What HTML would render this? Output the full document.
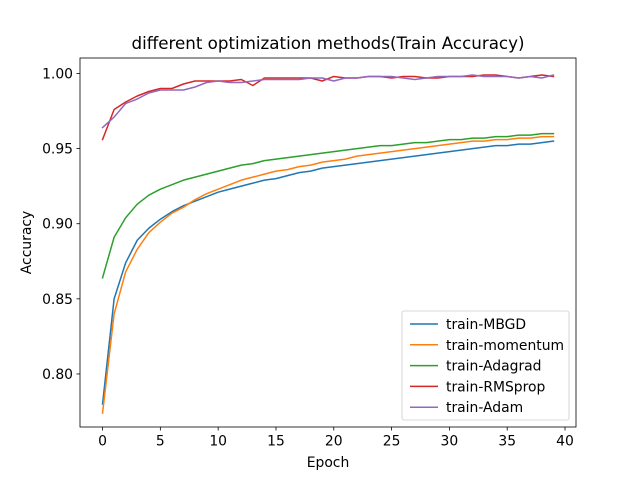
<!DOCTYPE html>
<html><head><meta charset="utf-8"><style>
body{margin:0;background:#fff;}
svg{display:block;font-family:"DejaVu Sans","Liberation Sans",sans-serif;}
</style></head><body>
<svg id="chart" width="640" height="480" viewBox="0 0 640 480"></svg>
<script>
const epochs = Array.from({length:40},(_,i)=>i);
const mbgd = [0.780,0.850,0.874,0.889,0.897,0.903,0.908,0.912,0.915,0.918,0.921,0.923,0.925,0.927,0.929,0.930,0.932,0.934,0.935,0.937,0.938,0.939,0.940,0.941,0.942,0.943,0.944,0.945,0.946,0.947,0.948,0.949,0.950,0.951,0.952,0.952,0.953,0.953,0.954,0.955];
const momentum = [0.774,0.840,0.868,0.883,0.894,0.901,0.907,0.911,0.916,0.920,0.923,0.926,0.929,0.931,0.933,0.935,0.936,0.938,0.939,0.941,0.942,0.943,0.945,0.946,0.947,0.948,0.949,0.950,0.951,0.952,0.953,0.954,0.955,0.955,0.956,0.956,0.957,0.957,0.958,0.958];
const adagrad = [0.864,0.891,0.904,0.913,0.919,0.923,0.926,0.929,0.931,0.933,0.935,0.937,0.939,0.940,0.942,0.943,0.944,0.945,0.946,0.947,0.948,0.949,0.950,0.951,0.952,0.952,0.953,0.954,0.954,0.955,0.956,0.956,0.957,0.957,0.958,0.958,0.959,0.959,0.960,0.960];
const rmsprop = [0.956,0.976,0.981,0.985,0.988,0.990,0.990,0.993,0.995,0.995,0.995,0.995,0.996,0.992,0.997,0.997,0.997,0.997,0.997,0.995,0.998,0.997,0.997,0.998,0.998,0.997,0.998,0.998,0.997,0.997,0.998,0.998,0.998,0.999,0.999,0.998,0.997,0.998,0.999,0.998];
const adam = [0.964,0.971,0.980,0.983,0.987,0.989,0.989,0.989,0.991,0.994,0.995,0.994,0.994,0.995,0.996,0.996,0.996,0.996,0.997,0.997,0.995,0.997,0.997,0.998,0.998,0.998,0.997,0.996,0.997,0.998,0.998,0.998,0.999,0.998,0.998,0.998,0.997,0.998,0.997,0.999];
const seriesNames = ["train-MBGD","train-momentum","train-Adagrad","train-RMSprop","train-Adam"];
const xTicks = [0,5,10,15,20,25,30,35,40];
const yTicks = [0.80,0.85,0.90,0.95,1.00];

const svg = document.getElementById('chart');
const NS = 'http://www.w3.org/2000/svg';
const L=80,R=576,T=58,B=427;
const xMin=-1.95,xMax=40.95,yMin=0.7647,yMax=1.0103;
const xs = v => L + (v-xMin)/(xMax-xMin)*(R-L);
const ys = v => B - (v-yMin)/(yMax-yMin)*(B-T);
function mk(tag, attrs, parent){const e=document.createElementNS(NS,tag);for(const k in attrs)e.setAttribute(k,attrs[k]);(parent||svg).appendChild(e);return e;}

const colors=["#1f77b4","#ff7f0e","#2ca02c","#d62728","#9467bd"];
const data=[mbgd,momentum,adagrad,rmsprop,adam];
data.forEach((arr,si)=>{
  const p=mk('polyline',{points:arr.map((v,i)=>xs(epochs[i]).toFixed(2)+','+ys(v).toFixed(2)).join(' '),fill:'none',stroke:colors[si],'stroke-width':1.5,'stroke-linejoin':'round','stroke-linecap':'square'});
  
  
});

const frame=mk('rect',{x:L,y:T,width:R-L,height:B-T,fill:'none',stroke:'#000','stroke-width':0.8});



xTicks.forEach(t=>{
  const x=xs(t);
  const tk=mk('line',{x1:x,x2:x,y1:B,y2:B+3.5,stroke:'#000','stroke-width':0.8});
  
  
  const tx=mk('text',{x:x,y:B+18.5,'text-anchor':'middle','font-size':13.9});
  tx.textContent=t;
  
  
});
yTicks.forEach(t=>{
  const y=ys(t);
  const tk=mk('line',{x1:L-3.5,x2:L,y1:y,y2:y,stroke:'#000','stroke-width':0.8});
  
  
  const tx=mk('text',{x:L-7,y:y+5,'text-anchor':'end','font-size':13.9});
  tx.textContent=t.toFixed(2);
  
  
});

const title=mk('text',{x:(L+R)/2,y:49,'text-anchor':'middle','font-size':16.7});
title.textContent='different optimization methods(Train Accuracy)';


const xl=mk('text',{x:(L+R)/2,y:467,'text-anchor':'middle','font-size':13.9});
xl.textContent='Epoch';


const yl=mk('text',{x:31,y:(T+B)/2,'text-anchor':'middle','font-size':13.9,transform:'rotate(-90 31 '+((T+B)/2)+')'});
yl.textContent='Accuracy';



const lg=mk('g',{});


mk('rect',{x:402,y:311,width:167,height:109,rx:2,fill:'#fff','fill-opacity':0.8,stroke:'#ccc','stroke-width':0.8},lg);
seriesNames.forEach((n,i)=>{
  const y=324+i*20.8;
  const ln=mk('line',{x1:410,x2:438,y1:y,y2:y,stroke:colors[i],'stroke-width':1.5},lg);
  
  
  const tx=mk('text',{x:446,y:y+5,'font-size':13.9},lg);
  tx.textContent=n;
  
  
});
</script>
</body></html>
